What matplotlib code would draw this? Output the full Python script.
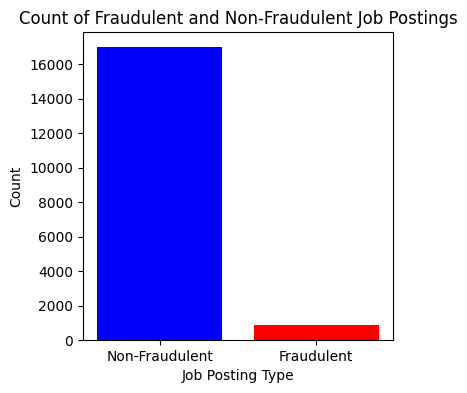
import matplotlib
matplotlib.use("Agg")
import matplotlib.pyplot as plt

labels = ["Non-Fraudulent", "Fraudulent"]
counts = [17014, 866]
colors = ["blue", "red"]

fig = plt.figure(figsize=(4.67, 3.93), dpi=100)
ax = fig.add_axes([83/467, 53/393, 310/467, 308/393])
ax.bar(labels, counts, color=colors)
ax.set_title("Count of Fraudulent and Non-Fraudulent Job Postings")
ax.set_xlabel("Job Posting Type")
ax.set_ylabel("Count")
fig.savefig("out.png", dpi=100)
